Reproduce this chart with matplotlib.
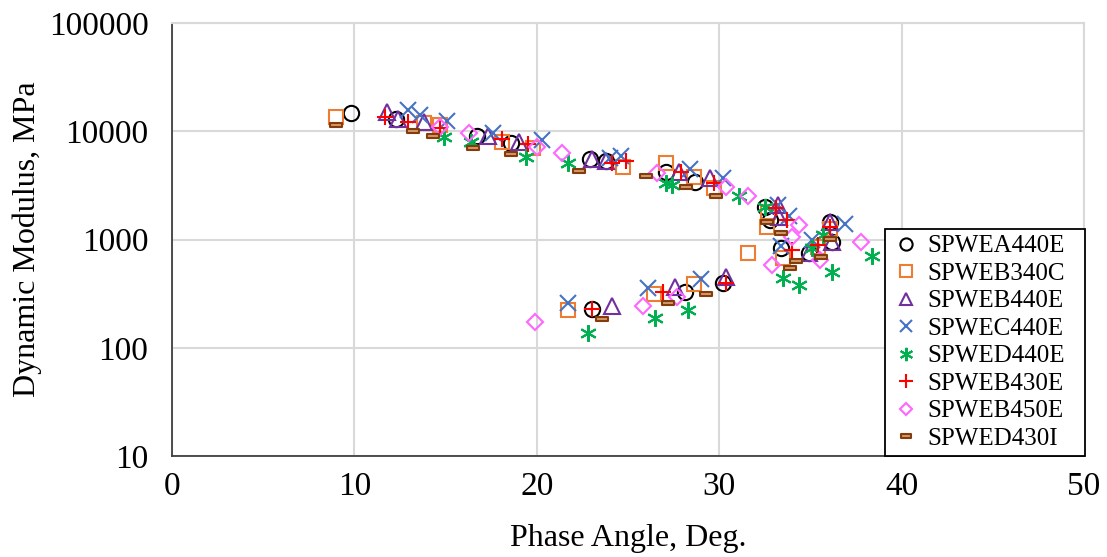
import matplotlib
matplotlib.use("Agg")
import matplotlib.pyplot as plt
from matplotlib.path import Path
from matplotlib.ticker import FixedLocator, FixedFormatter

# phase angle (deg) / dynamic modulus (MPa)
series_names = ["SPWEA440E", "SPWEB340C", "SPWEB440E", "SPWEC440E",
                "SPWED440E", "SPWEB430E", "SPWEB450E", "SPWED430I"]

a440e_x = [9.8, 12.3, 16.7, 18.6, 22.9, 23.8, 27.1, 28.7, 32.5, 32.8, 33.4, 34.9, 36.1, 36.2, 30.2, 28.1, 23.0]
a440e_y = [14700, 12900, 9100, 7800, 5600, 5300, 4200, 3400, 2000, 1500, 830, 750, 1450, 950, 400, 325, 230]

b340c_x = [9.0, 13.8, 14.7, 18.1, 19.8, 24.7, 27.1, 28.6, 29.7, 32.7, 32.6, 33.5, 35.4, 36.1, 31.6, 28.6, 26.4, 21.7]
b340c_y = [13500, 12000, 11400, 7900, 7000, 4700, 5100, 3800, 3000, 1800, 1300, 670, 850, 1250, 750, 390, 315, 225]

b440e_x = [11.8, 12.4, 13.8, 17.3, 19.0, 23.0, 23.8, 27.8, 29.5, 33.2, 33.3, 34.9, 36.1, 36.2, 30.4, 27.6, 24.1]
b440e_y = [15000, 13000, 12100, 9100, 7900, 5600, 5300, 4200, 3700, 2100, 1600, 750, 1450, 950, 450, 365, 245]

c440e_x = [12.95, 13.6, 15.1, 17.6, 20.3, 24.0, 24.6, 28.4, 30.2, 33.2, 33.8, 33.4, 35.1, 36.9, 29.0, 26.1, 21.7]
c440e_y = [15700, 14100, 12400, 9600, 8300, 5700, 5900, 4500, 3700, 2100, 1650, 870, 990, 1400, 430, 355, 260]

d440e_x = [14.9, 16.4, 19.4, 21.7, 27.1, 27.4, 31.1, 32.5, 35.1, 35.7, 38.4, 36.2, 34.4, 33.5, 28.3, 26.5, 22.8]
d440e_y = [8800, 7900, 5800, 5100, 3300, 3200, 2500, 2000, 830, 1100, 700, 500, 380, 440, 225, 190, 137]

b430e_x = [11.7, 12.95, 14.7, 18.1, 19.5, 24.1, 24.9, 27.9, 29.7, 33.1, 33.7, 34.0, 35.4, 36.1, 30.4, 26.9, 23.0]
b430e_y = [13500, 12100, 10800, 8500, 7600, 5100, 5300, 4200, 3300, 1950, 1500, 800, 890, 1300, 400, 325, 230]

b450e_x = [14.7, 16.3, 20.0, 21.4, 26.6, 30.4, 31.6, 34.4, 34.0, 32.9, 35.5, 37.8, 27.7, 25.8, 19.9]
b450e_y = [11000, 9600, 7200, 6300, 4100, 3050, 2500, 1350, 1050, 580, 650, 950, 295, 245, 172]

d430i_x = [9.0, 13.2, 14.3, 16.5, 18.6, 22.3, 26.0, 28.2, 29.8, 32.6, 33.4, 33.9, 34.2, 35.6, 36.1, 29.3, 27.2, 23.6]
d430i_y = [11400, 10000, 9100, 7000, 6100, 4300, 3900, 3050, 2500, 1450, 1150, 550, 630, 690, 1020, 315, 260, 185]

y_ticks = [10, 100, 1000, 10000, 100000]
y_tick_labels = ["10", "100", "1000", "10000", "100000"]
x_ticks = [0, 10, 20, 30, 40, 50]

# flat bar marker used by Excel for the last series
bar_marker = Path([(-1, -0.32), (1, -0.32), (1, 0.32), (-1, 0.32), (-1, -0.32)],
                  [Path.MOVETO, Path.LINETO, Path.LINETO, Path.LINETO, Path.CLOSEPOLY])

styles = [
    dict(marker="o", mec="black", mfc="none", ms=11),
    dict(marker="s", mec="#ED7D31", mfc="none", ms=10),
    dict(marker="^", mec="#7030A0", mfc="none", ms=11),
    dict(marker="x", mec="#4472C4", mfc="none", ms=11),
    dict(marker=(6, 2, 0), mec="#00B050", mfc="none", ms=12),
    dict(marker="+", mec="#FF0000", mfc="none", ms=12),
    dict(marker="D", mec="#FF66FF", mfc="none", ms=8),
    dict(marker=bar_marker, mec="#843C0C", mfc="#D39A6A", ms=9),
]

data = [(a440e_x, a440e_y), (b340c_x, b340c_y), (b440e_x, b440e_y), (c440e_x, c440e_y),
        (d440e_x, d440e_y), (b430e_x, b430e_y), (b450e_x, b450e_y), (d430i_x, d430i_y)]

plt.rcParams["font.family"] = ["Liberation Serif", "DejaVu Serif"]

fig = plt.figure(figsize=(11.07, 5.57), dpi=100)
ax = fig.add_axes([0.1554, 0.1813, 0.8238, 0.7774])

for name, (xs, ys), st in zip(series_names, data, styles):
    ax.plot(xs, ys, linestyle="none", mew=1.5, label=name, **st)

ax.set_yscale("log")
ax.set_xlim(0, 50)
ax.set_ylim(10, 100000)
ax.yaxis.set_major_locator(FixedLocator(y_ticks))
ax.yaxis.set_major_formatter(FixedFormatter(y_tick_labels))
ax.yaxis.set_minor_locator(FixedLocator([]))
ax.set_xticks(x_ticks)

ax.grid(True, color="#D9D9D9", linewidth=1.5)
ax.set_axisbelow(True)
for side in ["top", "right"]:
    ax.spines[side].set_color("#D9D9D9")
    ax.spines[side].set_linewidth(1.5)
for side in ["left", "bottom"]:
    ax.spines[side].set_color("#404040")
    ax.spines[side].set_linewidth(1.3)
ax.tick_params(length=0, labelsize=24)
ax.tick_params(axis="y", pad=17)
ax.tick_params(axis="x", pad=11)

ax.set_xlabel("Phase Angle, Deg.", fontsize=23, labelpad=16)
ax.set_ylabel("Dynamic Modulus, MPa", fontsize=23, labelpad=5)

leg = ax.legend(loc="lower left", bbox_to_anchor=(0.782, 0.0, 0.219, 0.5), mode="expand",
                fontsize=18, frameon=True, fancybox=False,
                borderaxespad=0, handletextpad=0.3, handlelength=1.15,
                labelspacing=0.2, borderpad=0.25, markerscale=0.8)
leg.get_frame().set_edgecolor("black")
leg.get_frame().set_linewidth(1.3)
leg.get_frame().set_alpha(1)

fig.savefig("out.png", dpi=100)
